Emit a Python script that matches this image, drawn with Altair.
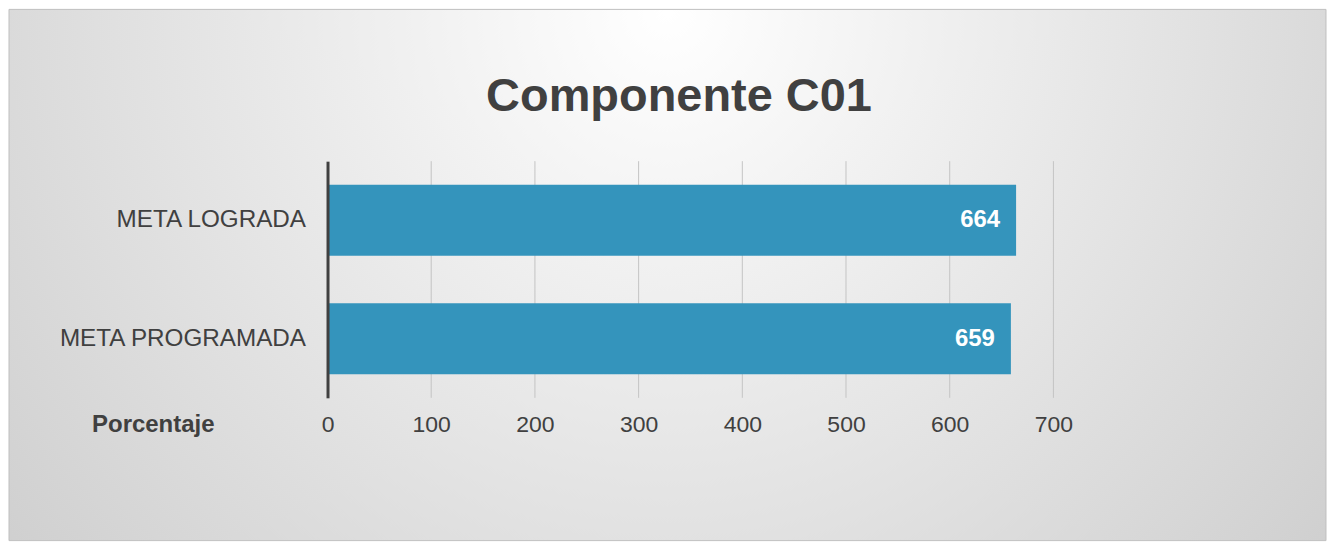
import altair as alt
import pandas as pd

# ---- data ----
title_text = "Componente C01"
categories = ["META LOGRADA", "META PROGRAMADA"]
values = [664, 659]
grid_ticks = [100, 200, 300, 400, 500, 600, 700]
axis_ticks = [0, 100, 200, 300, 400, 500, 600, 700]
x_title = "Porcentaje"

FONT = "Liberation Sans"
TXT = "#404040"
BAR = "#3494BC"

W, H = 727, 237

bars_df = pd.DataFrame({"categoria": categories, "valor": values})
grid_df = pd.DataFrame({"v": grid_ticks})
one = pd.DataFrame({"t": [title_text]})

xscale = alt.Scale(domain=[0, 700], nice=False, zero=True)
yscale = alt.Scale(domain=categories, paddingInner=0.4, paddingOuter=0.2)

x_axis = alt.Axis(
    values=axis_ticks,
    grid=False,
    domain=False,
    ticks=False,
    labelFlush=False,
    labelFontSize=23,
    labelColor=TXT,
    labelPadding=16,
    title=x_title,
    titleX=-175,
    titleY=27,
    titleAlign="center",
    titleBaseline="middle",
    titleFontSize=24,
    titleFontWeight="bold",
    titleColor=TXT,
    zindex=1,
)

y_axis = alt.Axis(
    title=None,
    domainColor=TXT,
    domainWidth=3,
    ticks=False,
    labelPadding=22,
    labelFontSize=24.3,
    labelColor=TXT,
    labelFontWeight="normal",
    labelLimit=0,
    zindex=1,
)

background = alt.Chart(one).mark_rect(
    fill={
        "gradient": "radial",
        "x1": 0.5, "y1": 0.3, "r1": 0,
        "x2": 0.5, "y2": 0.3, "r2": 0.8,
        "stops": [
            {"offset": 0, "color": "#ffffff"},
            {"offset": 1, "color": "#c4c4c4"},
        ],
    },
    stroke="#c0c0c0",
    strokeWidth=1,
).encode(
    x=alt.value(-319), x2=alt.value(1000),
    y=alt.value(-152), y2=alt.value(380),
)

grid = alt.Chart(grid_df).mark_rule(color="#c4c4c4", strokeWidth=1).encode(
    x=alt.X("v:Q", scale=xscale, axis=x_axis, title=x_title),
    y=alt.value(0),
    y2=alt.value(H),
)

bars = alt.Chart(bars_df).mark_bar(color=BAR).encode(
    x=alt.X("valor:Q", scale=xscale, axis=x_axis, title=x_title),
    y=alt.Y("categoria:N", scale=yscale, sort=categories, axis=y_axis),
)

labels = alt.Chart(bars_df).mark_text(
    align="right", baseline="middle", dx=-16,
    fontSize=24, fontWeight="bold", color="white",
).encode(
    x=alt.X("valor:Q", scale=xscale, axis=x_axis, title=x_title),
    y=alt.Y("categoria:N", scale=yscale, sort=categories, axis=y_axis),
    text=alt.Text("valor:Q"),
)

title = alt.Chart(one).mark_text(
    align="center", baseline="alphabetic",
    fontSize=47, fontWeight="bold", color=TXT,
).encode(
    text="t:N",
    x=alt.value(352),
    y=alt.value(-50),
)

chart = alt.layer(background, grid, bars, labels, title).properties(
    width=W, height=H, padding=0
).configure(font=FONT).configure_view(strokeWidth=0)

chart.save("out.html", embed_options={"renderer": "svg", "actions": False})
